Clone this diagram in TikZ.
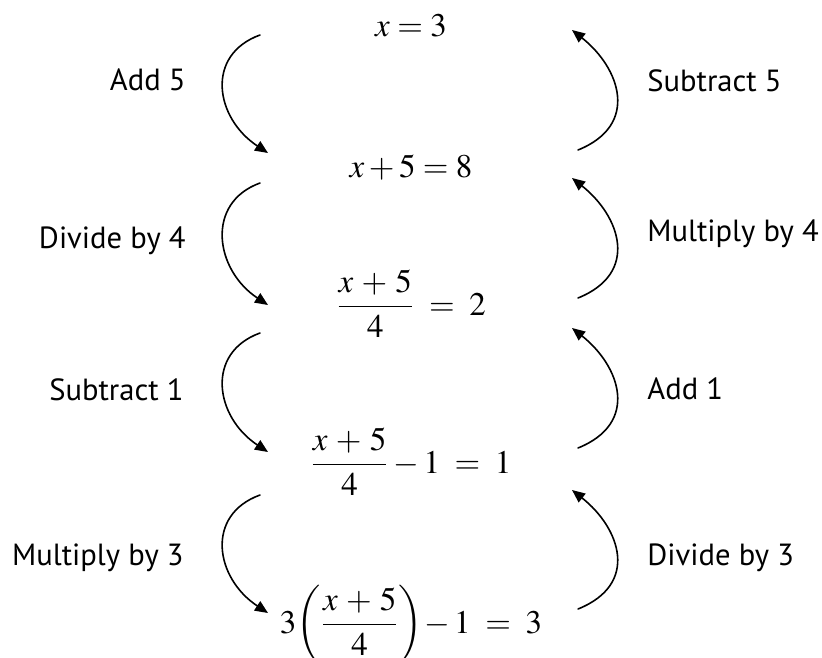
\documentclass[tikz,border=0pt]{standalone}
\usepackage{amsmath}
\usepackage{mathptmx}
\usepackage{fontspec}
\setsansfont{PT Sans}
\usetikzlibrary{arrows.meta}

\begin{document}
\begin{tikzpicture}[x=0.5pt,y=-0.5pt,line cap=round,line join=round,
    opname/.style={font=\fontsize{15.3}{18}\selectfont\sffamily,inner sep=0pt},
    eqn/.style={font=\fontsize{16.5}{20}\selectfont,anchor=base,inner sep=0pt},
    turn/.style={line width=0.8pt,-{Triangle[length=6.5pt,width=5.5pt]}}]
  \useasboundingbox (0,0) rectangle (822,657);
  % equations down the middle
  \node[eqn] (eq1) at (411,37) {$x = 3$};
  \node[eqn] (eq2) at (411,178) {$x + 5 = 8$};
  \node[eqn] (eq3) at (411,315) {$\dfrac{x\,+\,5}{4}\;=\;2$};
  \node[eqn] (eq4) at (411,473) {$\dfrac{x\,+\,5}{4} - 1\;=\;1$};
  \node[eqn] (eq5) at (411,633) {$3\biggl(\dfrac{x\,+\,5}{4}\biggr)\!- 1\;=\;3$};
  % steps going down
  \node[opname,anchor=base east] (add5) at (186,91) {Add 5};
  \node[opname,anchor=base east] (div4) at (186,249) {Divide by 4};
  \node[opname,anchor=base east] (sub1) at (184,400) {Subtract 1};
  \node[opname,anchor=base east] (mul3) at (184,565) {Multiply by 3};
  % steps going back up
  \node[opname,anchor=base west] (sub5) at (647,92) {Subtract 5};
  \node[opname,anchor=base west] (mul4) at (647,242) {Multiply by 4};
  \node[opname,anchor=base west] (add1) at (647,399) {Add 1};
  \node[opname,anchor=base west] (div3) at (647,565) {Divide by 3};
  \foreach \i/\ys/\ye in {1/35/153,2/183/305,3/333/452,4/495/613} {
    \coordinate (dn\i a) at (260,\ys);
    \coordinate (dn\i b) at (268,\ye);
    \draw[turn] (dn\i a) .. controls +(-55,20) and +(-53,-35) .. (dn\i b);
  }
  \foreach \i/\ys/\ye in {1/150/30,2/298/178,3/448/328,4/609/490} {
    \coordinate (up\i a) at (578,\ys);
    \coordinate (up\i b) at (572,\ye);
    \draw[turn] (up\i a) .. controls +(62,-25) and +(48,38) .. (up\i b);
  }
\end{tikzpicture}
\end{document}
